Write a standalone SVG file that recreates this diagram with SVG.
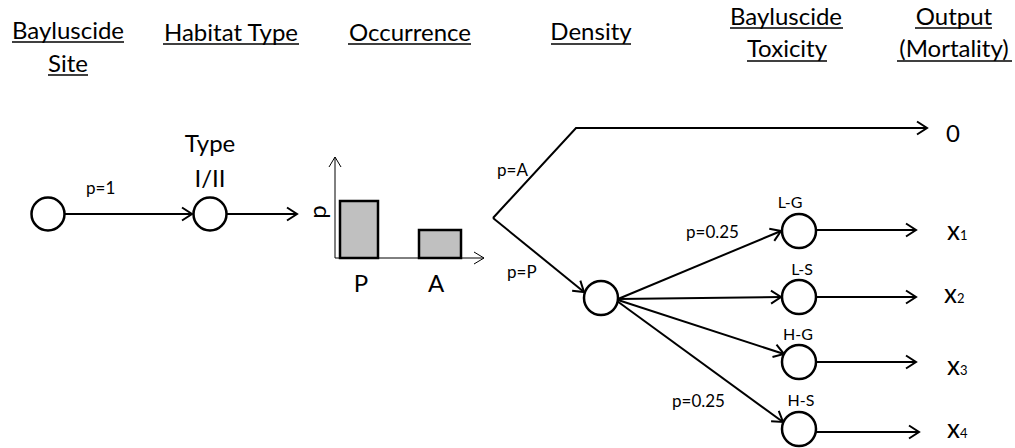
<svg xmlns="http://www.w3.org/2000/svg" width="1015" height="448" viewBox="0 0 1015 448">
  <style>
    text { font-family: Lato, "Open Sans", "Liberation Sans", sans-serif; fill: #000; }
    .hdr { font-size: 24px; text-anchor: middle; }
    .ul { stroke: #000; stroke-width: 1.5; }
    .node { fill: #fff; stroke: #000; stroke-width: 2.5; }
    .edge { fill: none; stroke: #000; stroke-width: 2; marker-end: url(#arrow); }
    .axis { fill: none; stroke: #000; stroke-width: 1; marker-end: url(#thin); }
    .bar { fill: #c0c0c0; stroke: #000; stroke-width: 2.5; }
    .lbl { font-size: 17px; }
    .big { font-size: 24px; }
    .tag { font-size: 16px; text-anchor: middle; }
    .sub { font-size: 13px; }
  </style>
  <defs>
    <marker id="arrow" markerUnits="userSpaceOnUse" markerWidth="14" markerHeight="16" viewBox="0 0 14 16" refX="12" refY="8" orient="auto">
      <path d="M2,1.5 L12,8 L2,14.5" fill="none" stroke="#000" stroke-width="2"/>
    </marker>
    <marker id="thin" markerUnits="userSpaceOnUse" markerWidth="12" markerHeight="14" viewBox="0 0 12 14" refX="11" refY="7" orient="auto">
      <path d="M1,1 L11,7 L1,13" fill="none" stroke="#000" stroke-width="1"/>
    </marker>
  </defs>

  <!-- column headings -->
  <g id="headings">
    <text class="hdr" x="68" y="39">Bayluscide</text>
    <line class="ul" x1="12" y1="42" x2="124" y2="42"/>
    <text class="hdr" x="68" y="72">Site</text>
    <line class="ul" x1="48" y1="75" x2="88" y2="75"/>

    <text class="hdr" x="231" y="41">Habitat Type</text>
    <line class="ul" x1="163" y1="44" x2="299" y2="44"/>

    <text class="hdr" x="410" y="41">Occurrence</text>
    <line class="ul" x1="348" y1="44" x2="471" y2="44"/>

    <text class="hdr" x="591" y="40">Density</text>
    <line class="ul" x1="551" y1="44" x2="631" y2="44"/>

    <text class="hdr" x="786" y="25">Bayluscide</text>
    <line class="ul" x1="730" y1="28" x2="843" y2="28"/>
    <text class="hdr" x="787" y="57">Toxicity</text>
    <line class="ul" x1="747" y1="61" x2="827" y2="61"/>

    <text class="hdr" x="954" y="25">Output</text>
    <line class="ul" x1="915" y1="28" x2="992" y2="28"/>
    <text class="hdr" x="954" y="57">(Mortality)</text>
    <line class="ul" x1="897" y1="61" x2="1012" y2="61"/>
  </g>

  <!-- connectors -->
  <g id="connectors">
    <line class="edge" x1="65" y1="214" x2="192" y2="214"/>
    <line class="edge" x1="227" y1="214" x2="297" y2="214"/>
    <polyline class="edge" points="493,218 576,128 927,128"/>
    <line class="edge" x1="493" y1="218" x2="584" y2="292"/>
    <line class="edge" x1="618" y1="299" x2="781" y2="231"/>
    <line class="edge" x1="618" y1="299" x2="781" y2="297"/>
    <line class="edge" x1="618" y1="300" x2="784" y2="354"/>
    <line class="edge" x1="617" y1="301" x2="783" y2="422"/>
    <line class="edge" x1="816" y1="230" x2="916" y2="230"/>
    <line class="edge" x1="816" y1="297" x2="916" y2="297"/>
    <line class="edge" x1="816" y1="362" x2="916" y2="362"/>
    <line class="edge" x1="816" y1="432" x2="919" y2="432"/>
    <text class="lbl" x="86" y="194">p=1</text>
    <text class="lbl" x="497" y="176">p=A</text>
    <text class="lbl" x="507" y="278">p=P</text>
    <text class="lbl" x="686" y="238">p=0.25</text>
    <text class="lbl" x="672" y="407">p=0.25</text>
  </g>

  <!-- nodes -->
  <g id="site">
    <circle class="node" cx="48" cy="214" r="16.5"/>
  </g>
  <g id="habitat">
    <circle class="node" cx="210" cy="214" r="16.5"/>
    <text class="big" x="210" y="152" text-anchor="middle">Type</text>
    <text class="big" x="210" y="187" text-anchor="middle">I/II</text>
  </g>
  <g id="occurrence">
    <line class="axis" x1="335" y1="258" x2="335" y2="157"/>
    <line class="axis" x1="335" y1="258" x2="484" y2="258"/>
    <rect class="bar" x="340" y="201" width="38" height="57"/>
    <rect class="bar" x="419" y="230" width="42" height="28"/>
    <text class="big" transform="translate(326,212) rotate(-90)" text-anchor="middle">p</text>
    <text class="big" x="361" y="292" text-anchor="middle">P</text>
    <text class="big" x="436" y="292" text-anchor="middle">A</text>
  </g>
  <g id="density">
    <circle class="node" cx="601" cy="298" r="17"/>
  </g>
  <g id="tox-lg">
    <circle class="node" cx="799" cy="231" r="17"/>
    <text class="tag" x="790" y="208">L-G</text>
  </g>
  <g id="tox-ls">
    <circle class="node" cx="799" cy="297" r="17"/>
    <text class="tag" x="802" y="275">L-S</text>
  </g>
  <g id="tox-hg">
    <circle class="node" cx="799" cy="362" r="17"/>
    <text class="tag" x="798" y="340">H-G</text>
  </g>
  <g id="tox-hs">
    <circle class="node" cx="799" cy="429" r="17"/>
    <text class="tag" x="801" y="406">H-S</text>
  </g>

  <!-- outputs -->
  <g id="out-zero">
    <text class="big" x="946" y="142">0</text>
  </g>
  <g id="out-x1">
    <text x="947" y="240"><tspan font-size="26">x</tspan><tspan class="sub">1</tspan></text>
  </g>
  <g id="out-x2">
    <text x="944" y="303"><tspan font-size="26">x</tspan><tspan class="sub">2</tspan></text>
  </g>
  <g id="out-x3">
    <text x="947" y="375"><tspan font-size="26">x</tspan><tspan class="sub">3</tspan></text>
  </g>
  <g id="out-x4">
    <text x="947" y="438"><tspan font-size="26">x</tspan><tspan class="sub">4</tspan></text>
  </g>
</svg>
